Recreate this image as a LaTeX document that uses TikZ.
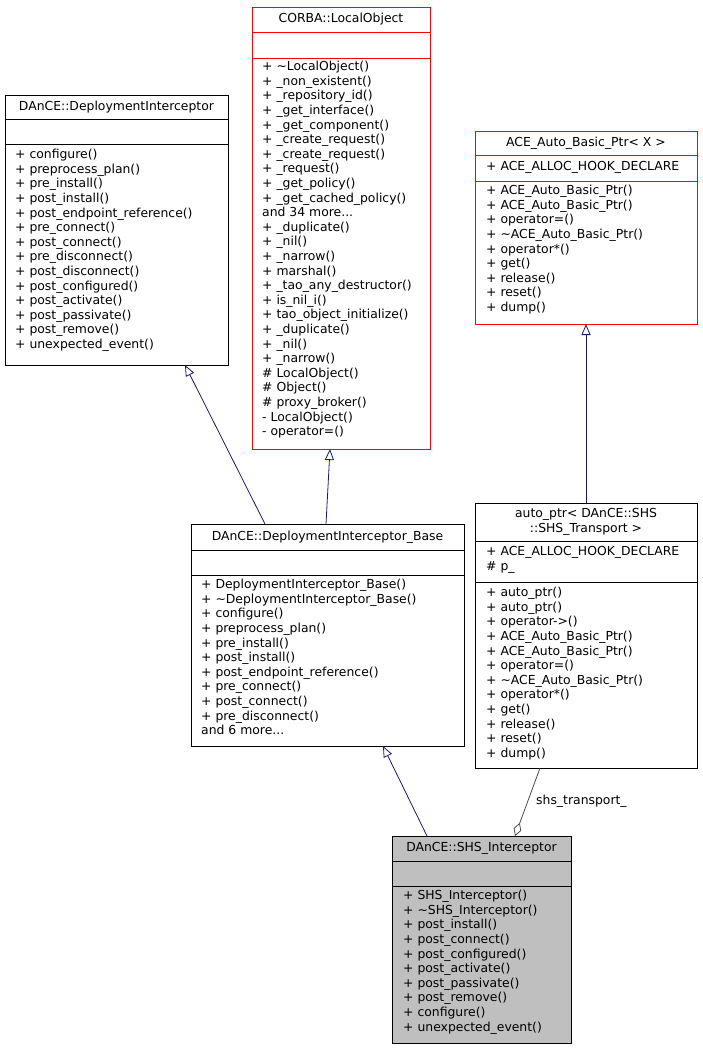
\documentclass[tikz,border=0pt]{standalone}
\usepackage{fontspec}
\setmainfont{DejaVu Sans}
\usetikzlibrary{arrows.meta}

\tikzset{
  cls/.style={draw=black, line width=0.8pt},
  clsred/.style={draw=red, line width=0.8pt},
  members/.style={anchor=north west, align=left, inner sep=0pt,
    font=\fontsize{12.4}{14.6}\selectfont},
  title/.style={align=center, inner sep=0pt, font=\fontsize{12.4}{14.6}\selectfont},
  inherit/.style={draw={rgb,255:red,25;green,25;blue,112}, line width=0.8pt,
    -{Triangle[open, length=11pt, width=9pt]}},
  aggr/.style={draw=gray!60!black, line width=0.8pt,
    -{Diamond[open, length=14pt, width=8pt]}},
}

% box: name, left, top, right, bottom, sep1, sep2, style
\newcommand{\umlbox}[8]{%
  \draw[#8] (#2,#3) rectangle (#4,#5);
  \draw[#8] (#2,#6) -- (#4,#6);
  \draw[#8] (#2,#7) -- (#4,#7);
}

\begin{document}
\begin{tikzpicture}[x=1pt, y=-1pt]
\useasboundingbox (0,0) rectangle (703,1051);

% DAnCE::DeploymentInterceptor
\umlbox{di}{5}{95}{228}{365}{119}{144}{cls}
\node[title] (dititle) at (116.5,107) {DAnCE::DeploymentInterceptor};
\node[members] (dimeth) at (15,149) {+ configure()\\+ preprocess\_plan()\\+ pre\_install()\\+ post\_install()\\+ post\_endpoint\_reference()\\+ pre\_connect()\\+ post\_connect()\\+ pre\_disconnect()\\+ post\_disconnect()\\+ post\_configured()\\+ post\_activate()\\+ post\_passivate()\\+ post\_remove()\\+ unexpected\_event()};
\coordinate (dibot) at (185,365);

% CORBA::LocalObject
\umlbox{lo}{252}{7}{430}{449}{32}{58}{clsred}
\node[title] (lotitle) at (341,19.5) {CORBA::LocalObject};
\node[members] (lometh) at (262,61) {+ \textasciitilde LocalObject()\\+ \_non\_existent()\\+ \_repository\_id()\\+ \_get\_interface()\\+ \_get\_component()\\+ \_create\_request()\\+ \_create\_request()\\+ \_request()\\+ \_get\_policy()\\+ \_get\_cached\_policy()\\and 34 more...\\+ \_duplicate()\\+ \_nil()\\+ \_narrow()\\+ marshal()\\+ \_tao\_any\_destructor()\\+ is\_nil\_i()\\+ tao\_object\_initialize()\\+ \_duplicate()\\+ \_nil()\\+ \_narrow()\\\# LocalObject()\\\# Object()\\\# proxy\_broker()\\- LocalObject()\\- operator=()};
\coordinate (lobot) at (330,449);

% ACE_Auto_Basic_Ptr< X >
\umlbox{ace}{475}{131}{697}{324}{155}{181}{clsred}
\node[title] (acetitle) at (586,143) {ACE\_Auto\_Basic\_Ptr< X >};
\node[members] (aceattr) at (486,161) {+ ACE\_ALLOC\_HOOK\_DECLARE};
\node[members] (acemeth) at (486,185) {+ ACE\_Auto\_Basic\_Ptr()\\+ ACE\_Auto\_Basic\_Ptr()\\+ operator=()\\+ \textasciitilde ACE\_Auto\_Basic\_Ptr()\\+ operator*()\\+ get()\\+ release()\\+ reset()\\+ dump()};
\coordinate (acebot) at (586,324);

% DAnCE::DeploymentInterceptor_Base
\umlbox{base}{191}{524}{464}{746}{550}{575}{cls}
\node[title] (basetitle) at (327.5,537) {DAnCE::DeploymentInterceptor\_Base};
\node[members] (basemeth) at (201,579) {+ DeploymentInterceptor\_Base()\\+ \textasciitilde DeploymentInterceptor\_Base()\\+ configure()\\+ preprocess\_plan()\\+ pre\_install()\\+ post\_install()\\+ post\_endpoint\_reference()\\+ pre\_connect()\\+ post\_connect()\\+ pre\_disconnect()\\and 6 more...};
\coordinate (basetopl) at (265,524);
\coordinate (basetopr) at (326,524);
\coordinate (basebot) at (383,746);

% auto_ptr< DAnCE::SHS::SHS_Transport >
\umlbox{ap}{475}{503}{697}{768}{541}{582}{cls}
\node[title] (aptitle) at (586,522) {auto\_ptr< DAnCE::SHS\\::SHS\_Transport >};
\node[members] (apattr) at (486,546) {+ ACE\_ALLOC\_HOOK\_DECLARE\\\# p\_};
\node[members] (apmeth) at (486,587) {+ auto\_ptr()\\+ auto\_ptr()\\+ operator->()\\+ ACE\_Auto\_Basic\_Ptr()\\+ ACE\_Auto\_Basic\_Ptr()\\+ operator=()\\+ \textasciitilde ACE\_Auto\_Basic\_Ptr()\\+ operator*()\\+ get()\\+ release()\\+ reset()\\+ dump()};
\coordinate (aptop) at (586,503);
\coordinate (apbot) at (540,768);

% DAnCE::SHS_Interceptor
\fill[gray!50] (392,836) rectangle (571,1043);
\umlbox{shs}{392}{836}{571}{1043}{861}{886}{cls}
\node[title] (shstitle) at (481.5,848.5) {DAnCE::SHS\_Interceptor};
\node[members] (shsmeth) at (403,890) {+ SHS\_Interceptor()\\+ \textasciitilde SHS\_Interceptor()\\+ post\_install()\\+ post\_connect()\\+ post\_configured()\\+ post\_activate()\\+ post\_passivate()\\+ post\_remove()\\+ configure()\\+ unexpected\_event()};
\coordinate (shstopl) at (427,836);
\coordinate (shstopr) at (515,836);

% relations
\draw[inherit] (basetopl) -- (dibot);
\draw[inherit] (basetopr) -- (lobot);
\draw[inherit] (aptop) -- (acebot);
\draw[inherit] (shstopl) -- (basebot);
\draw[aggr] (apbot) -- (shstopr);
\node[title, anchor=west] (aplabel) at (536,801) {shs\_transport\_};
\end{tikzpicture}
\end{document}
